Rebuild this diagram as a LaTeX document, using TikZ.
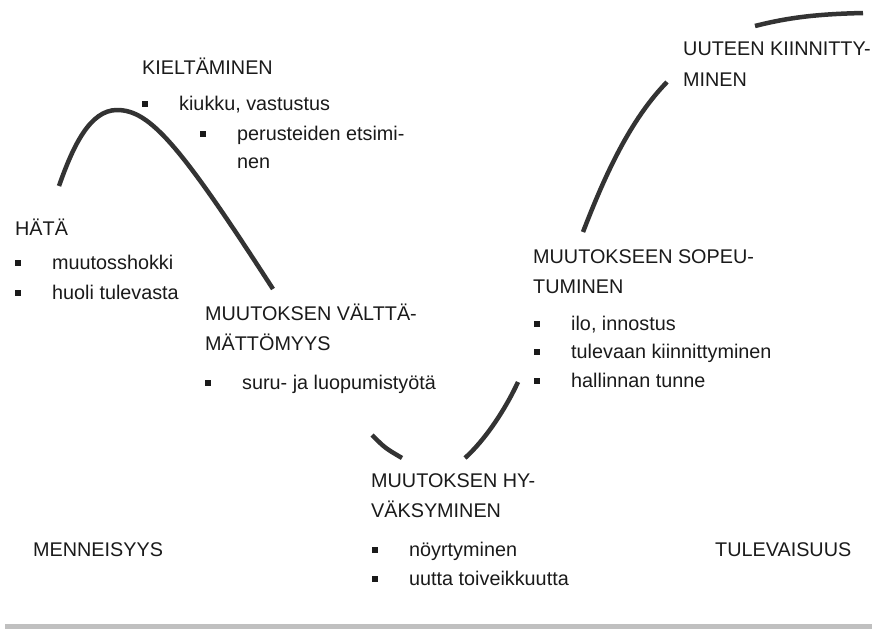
\documentclass[tikz,border=0pt]{standalone}
\usepackage{fontspec}
\setmainfont{Liberation Sans}
\definecolor{curvegray}{HTML}{333333}
\definecolor{rulegray}{HTML}{C0C0C0}
\definecolor{textgray}{HTML}{1A1A1A}
\newcommand{\bul}{\makebox[37pt][l]{\rule[3pt]{6pt}{6pt}}}

\begin{document}
\begin{tikzpicture}[x=1pt, y=-1pt, lbl/.style={anchor=base west, inner sep=0pt, font=\fontsize{19.8}{24}\selectfont, text=textgray}, wave/.style={line width=4.5pt, draw=curvegray}]
\useasboundingbox (0,0) rectangle (876,633);

% the wave, cut by the texts
\draw[wave] (59,186) .. controls (73,146) and (90,110) .. (117,110) .. controls (150,110) and (180,145) .. (273,289);
\draw[wave] (372,435) .. controls (385,448) .. (402,458);
\draw[wave] (465,458) .. controls (485,440) and (505,410) .. (518,382);
\draw[wave] (583,232) .. controls (605,175) and (630,120) .. (667,82);
\draw[wave] (755,26) .. controls (790,17) and (820,14) .. (863,13);

% HÄTÄ
\node[lbl] (hata) at (15,235) {HÄTÄ};
\node[lbl] (hata1) at (15,269) {\bul muutosshokki};
\node[lbl] (hata2) at (15,299) {\bul huoli tulevasta};
% KIELTÄMINEN
\node[lbl] (kielt) at (142,74) {KIELTÄMINEN};
\node[lbl] (kielt1) at (142,110) {\bul kiukku, vastustus};
\node[lbl] (kielt2) at (200,140) {\bul perusteiden etsimi-};
\node[lbl] (kielt3) at (237,168) {nen};
% VÄLTTÄMÄTTÖMYYS
\node[lbl] (valt) at (205,320) {MUUTOKSEN VÄLTTÄ-};
\node[lbl] (valt0) at (205,350) {MÄTTÖMYYS};
\node[lbl] (valt1) at (205,389) {\bul suru- ja luopumistyötä};
% HYVÄKSYMINEN
\node[lbl] (hyv) at (371,487) {MUUTOKSEN HY-};
\node[lbl] (hyv0) at (371,517) {VÄKSYMINEN};
\node[lbl] (hyv1) at (372,556) {\bul nöyrtyminen};
\node[lbl] (hyv2) at (372,585) {\bul uutta toiveikkuutta};
% SOPEUTUMINEN
\node[lbl] (sop) at (533,263) {MUUTOKSEEN SOPEU-};
\node[lbl] (sop0) at (533,293) {TUMINEN};
\node[lbl] (sop1) at (534,330) {\bul ilo, innostus};
\node[lbl] (sop2) at (534,358) {\bul tulevaan kiinnittyminen};
\node[lbl] (sop3) at (534,387) {\bul hallinnan tunne};
% UUTEEN KIINNITTYMINEN
\node[lbl] (uut) at (683,55) {UUTEEN KIINNITTY-};
\node[lbl] (uut0) at (683,86) {MINEN};
% menneisyys - tulevaisuus
\node[lbl] (menn) at (33,556) {MENNEISYYS};
\node[lbl] (tul) at (715,556) {TULEVAISUUS};

\draw[line width=5pt, rulegray] (5,626) -- (872,626);
\end{tikzpicture}
\end{document}
